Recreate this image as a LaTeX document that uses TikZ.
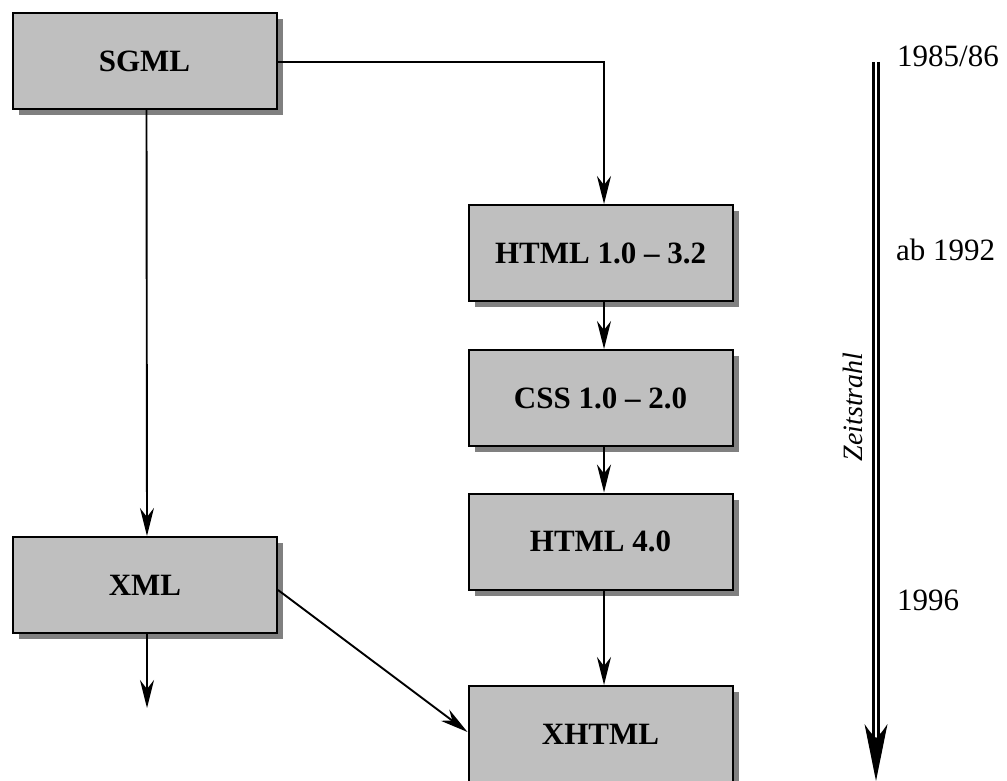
\documentclass[tikz,border=0pt]{standalone}
\usepackage{fontspec}
\setmainfont{Liberation Serif}
\usetikzlibrary{arrows.meta,shadows}
\begin{document}
\begin{tikzpicture}[x=1pt,y=-1pt,
  box/.style={draw=black, line width=2pt, fill=black!25, minimum width=264pt, minimum height=96pt,
    inner sep=0pt, font=\fontsize{31}{36}\selectfont\bfseries,
    drop shadow={shadow xshift=6pt, shadow yshift=-6pt, fill=black!50, opacity=1}},
  arr/.style={draw=black, line width=1.9pt, -{Stealth[length=28pt, width=14pt, inset=9pt]}},
  year/.style={inner sep=0pt, anchor=base west, font=\fontsize{31}{36}\selectfont}]
\useasboundingbox (0,0) rectangle (1007,781);
\clip (0,0) rectangle (1007,781);
\fill[white] (0,0) rectangle (1007,781);

\node[box] (sgml) at (144.5,61) {SGML};
\node[box] (html1) at (600.5,253) {HTML 1.0 – 3.2};
\node[box] (css) at (600.5,398) {CSS 1.0 – 2.0};
\node[box] (html4) at (600.5,541.5) {HTML 4.0};
\node[box] (xhtml) at (600.5,734) {XHTML};
\node[box] (xml) at (145,585) {XML};
\coordinate (xmlend) at (147,708);

\draw[arr] ([yshift=-1pt]sgml.east) -| ([xshift=3.5pt]html1.north);
\draw[arr] ([xshift=2pt]sgml.south) -- ([xshift=2pt]xml.north);
\draw[arr] ([xshift=3.5pt]html1.south) -- ([xshift=3.5pt]css.north);
\draw[arr] ([xshift=3.5pt]css.south) -- ([xshift=3.5pt]html4.north);
\draw[arr] ([xshift=3.5pt]html4.south) -- ([xshift=3.5pt]xhtml.north);
\draw[arr] ([yshift=-5pt]xml.east) -- ([yshift=2pt]xhtml.west);
\draw[arr] ([xshift=2pt]xml.south) -- (xmlend);

% timeline
\coordinate (tltop) at (876,62);
\coordinate (tlend) at (876,742);
\coordinate (tltip) at (876,781);
\draw[line width=2.5pt, double=white, double distance=2.5pt] (tltop) -- (tlend);
\fill[black] (tltip) -- (864.5,724) .. controls (870,732) .. (876,738) .. controls (882,732) .. (887.5,724) -- cycle;

\node[year] (y1) at (897,67) {1985/86};
\node[year] (y2) at (896,260) {ab 1992};
\node[year] (y3) at (897,610) {1996};
\node[inner sep=0pt, anchor=base, rotate=90, font=\fontsize{28}{33}\selectfont\itshape] (zs) at (862,407) {Zeitstrahl};
\end{tikzpicture}
\end{document}
